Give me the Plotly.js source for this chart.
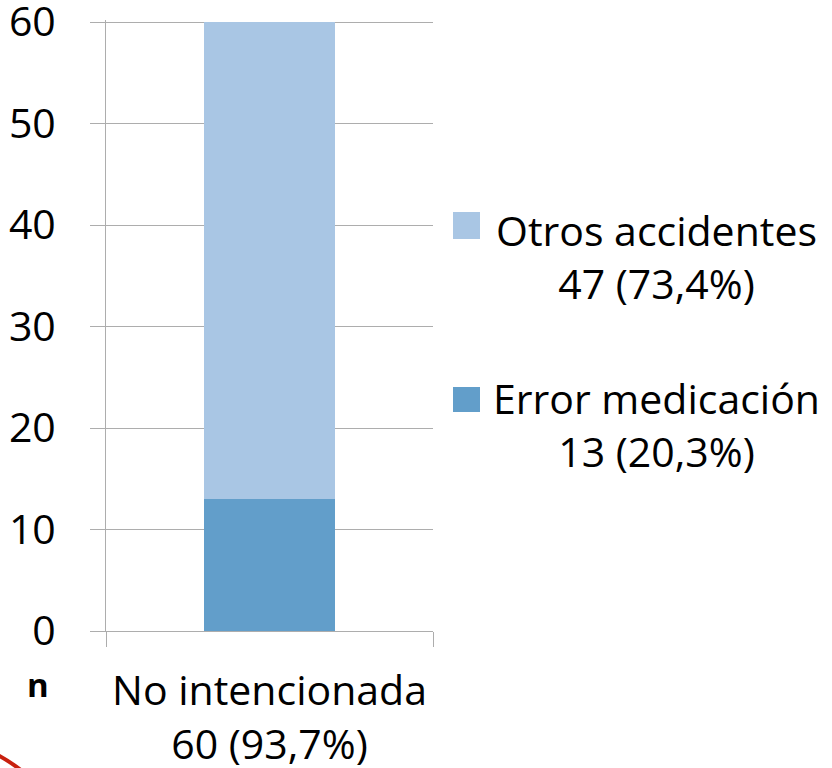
<!DOCTYPE html>
<html>
<head>
<meta charset="utf-8">
<script src="https://cdn.plot.ly/plotly-3.0.1.min.js"></script>
<style>html,body{margin:0;padding:0;background:#fff;}#chart{width:832px;height:768px;}</style>
</head>
<body>
<div id="chart"></div>
<script>
const categories = ["No intencionada<br>60 (93,7%)"];
const seriesNames = ["Error medicación", "Otros accidentes"];
const seriesSubLabels = ["13 (20,3%)", "47 (73,4%)"];
const errorMedicacion = [13];
const otrosAccidentes = [47];
const seriesColors = ["#629ECA", "#A9C6E4"];
const yTickValues = [0, 10, 20, 30, 40, 50, 60];
const yAxisUnit = "n";

const FONT = "'Open Sans', 'Noto Sans', sans-serif";
const FS = 41;
const GRID = "#ADADAD";

const traces = [
  {type: "bar", name: seriesNames[0], x: categories, y: errorMedicacion,
   marker: {color: seriesColors[0]}, width: 0.4, showlegend: false, hoverinfo: "y+name"},
  {type: "bar", name: seriesNames[1], x: categories, y: otrosAccidentes,
   marker: {color: seriesColors[1]}, width: 0.4, showlegend: false, hoverinfo: "y+name"}
];

// plot area: x 106..433, y 20..631 (range top slightly above 60 so the 60 gridline is kept)
const toPy = px => (631 - px) / 611;
const toPx = px => (px - 106) / 327;
const legendRows = [
  {idx: 1, sqTop: 212, sqBot: 239, textMid: 256},
  {idx: 0, sqTop: 387, sqBot: 412, textMid: 424}
];
const shapes = [];
const annotations = [];
legendRows.forEach(r => {
  shapes.push({type: "rect", xref: "paper", yref: "paper", x0: toPx(453), x1: toPx(480),
    y0: toPy(r.sqBot), y1: toPy(r.sqTop), fillcolor: seriesColors[r.idx], line: {width: 0}});
  annotations.push({xref: "paper", yref: "paper", x: toPx(656), y: toPy(r.textMid),
    xanchor: "center", yanchor: "middle", align: "center", showarrow: false,
    text: seriesNames[r.idx] + "<br>" + seriesSubLabels[r.idx],
    font: {family: FONT, size: FS, color: "#000"}});
});
annotations.push({xref: "paper", yref: "paper", x: toPx(37.5), y: toPy(684),
  xanchor: "center", yanchor: "middle", showarrow: false, text: "<b>" + yAxisUnit + "</b>",
  font: {family: FONT, size: 33, color: "#000"}});

// decorative red arc in the lower-left corner
shapes.push({type: "path", xref: "paper", yref: "paper",
  path: "M " + toPx(-6) + "," + toPy(753) + " Q " + toPx(8) + "," + toPy(760) + " " + toPx(22) + "," + toPy(771),
  line: {color: "#C8200E", width: 4}});

const layout = {
  width: 832, height: 768,
  margin: {l: 106, r: 399, t: 20, b: 137, pad: 0},
  paper_bgcolor: "#fff", plot_bgcolor: "#fff",
  barmode: "stack",
  showlegend: false,
  font: {family: FONT, size: FS, color: "#000"},
  xaxis: {
    type: "category", showgrid: false, zeroline: false,
    showline: true, linecolor: GRID, linewidth: 1,
    ticks: "outside", ticklen: 15, tickcolor: GRID, tickwidth: 1, tickson: "boundaries",
    ticklabelstandoff: 24, ticklabeloverflow: "allow",
    tickfont: {family: FONT, size: FS, color: "#000"}
  },
  yaxis: {
    range: [0, 60.2], tickvals: yTickValues, showgrid: true, gridcolor: GRID, gridwidth: 1,
    zeroline: false, showline: true, linecolor: GRID, linewidth: 1,
    ticks: "outside", ticklen: 15, tickcolor: GRID, tickwidth: 1,
    ticklabelstandoff: 26, ticklabeloverflow: "allow",
    tickfont: {family: FONT, size: FS, color: "#000"}
  },
  shapes: shapes,
  annotations: annotations
};

Plotly.newPlot("chart", traces, layout, {displayModeBar: false, staticPlot: true});
</script>
</body>
</html>
